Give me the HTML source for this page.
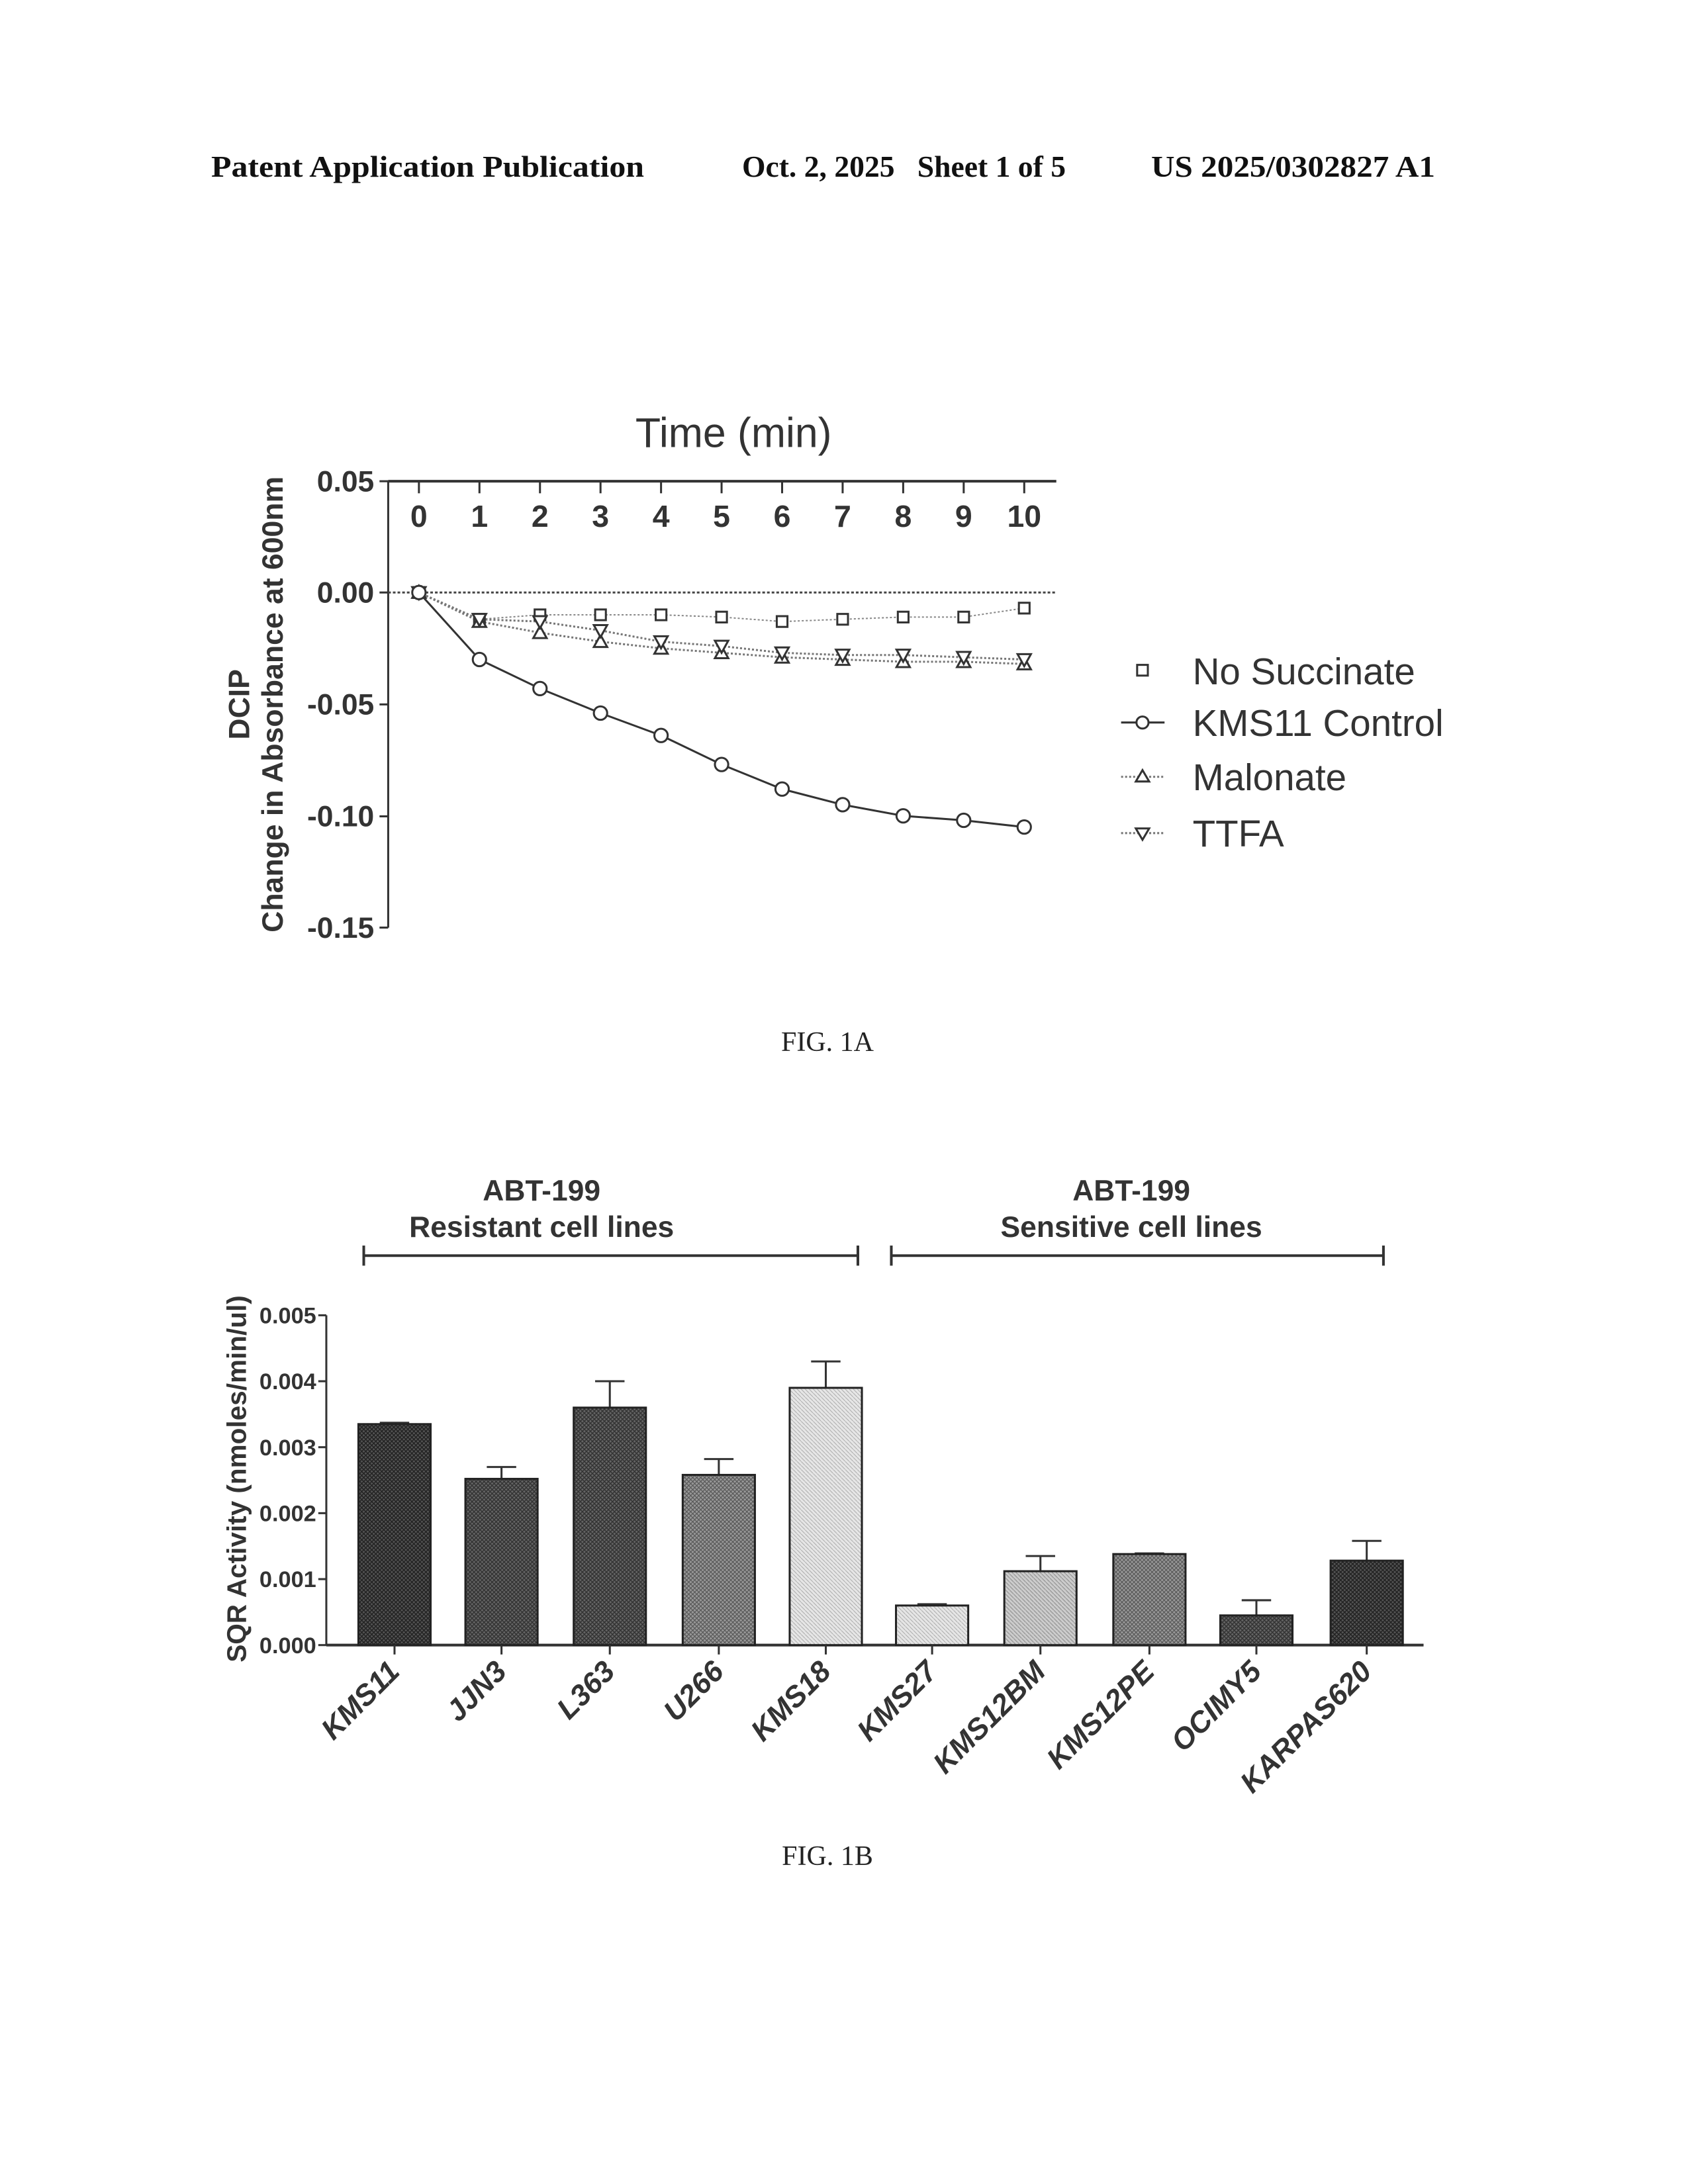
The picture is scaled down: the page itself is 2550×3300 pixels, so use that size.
<!DOCTYPE html>
<html><head><meta charset="utf-8"><style>
html,body{margin:0;padding:0;background:#fff;}
svg{display:block;}
text{font-family:"Liberation Sans",sans-serif;}
text.s{font-family:"Liberation Serif",serif;}
</style></head><body>
<svg width="2550" height="3300" viewBox="0 0 2550 3300" xmlns="http://www.w3.org/2000/svg">
<defs>
<pattern id="p1" width="6" height="6" patternUnits="userSpaceOnUse"><rect width="6" height="6" fill="#555"/><path d="M0 0L6 6M6 0L0 6" stroke="#222" stroke-width="1.5"/></pattern>
<pattern id="p2" width="6" height="6" patternUnits="userSpaceOnUse"><rect width="6" height="6" fill="#666"/><path d="M0 0L6 6M6 0L0 6" stroke="#333" stroke-width="1.5"/></pattern>
<pattern id="p3" width="6" height="6" patternUnits="userSpaceOnUse"><rect width="6" height="6" fill="#999"/><path d="M0 0L6 6M6 0L0 6" stroke="#555" stroke-width="1.2"/></pattern>
<pattern id="p4" width="6" height="6" patternUnits="userSpaceOnUse"><rect width="6" height="6" fill="#ccc"/><path d="M0 0L6 6" stroke="#888" stroke-width="1"/></pattern>
<pattern id="p5" width="6" height="6" patternUnits="userSpaceOnUse"><rect width="6" height="6" fill="#e6e6e6"/><path d="M0 0L6 6" stroke="#aaa" stroke-width="1"/></pattern>
</defs>

<!-- Header -->
<g font-weight="bold" font-size="46" fill="#111">
<text class="s" x="319" y="267" textLength="654" lengthAdjust="spacingAndGlyphs">Patent Application Publication</text>
<text class="s" x="1121" y="267" xml:space="preserve" textLength="489" lengthAdjust="spacingAndGlyphs">Oct. 2, 2025   Sheet 1 of 5</text>
<text class="s" x="1739" y="267" textLength="429" lengthAdjust="spacingAndGlyphs">US 2025/0302827 A1</text>
</g>

<!-- FIG 1A -->
<g transform="translate(-2,-1) scale(1.0093,1.0127)">
<text x="1100" y="668" font-size="62" text-anchor="middle" fill="#333">Time (min)</text>
<line x1="583" y1="719" x2="1583" y2="719" stroke="#333" stroke-width="4"/>
<line x1="583" y1="719" x2="583" y2="1385" stroke="#333" stroke-width="3"/>
<line x1="583" y1="885" x2="1583" y2="885" stroke="#444" stroke-width="3" stroke-dasharray="4,3"/>
<g stroke="#333" stroke-width="3">
<line x1="570" y1="719" x2="583" y2="719"/><line x1="570" y1="885" x2="583" y2="885"/><line x1="570" y1="1052" x2="583" y2="1052"/><line x1="570" y1="1219" x2="583" y2="1219"/><line x1="570" y1="1385" x2="583" y2="1385"/>
</g>
<g font-size="44" font-weight="bold" fill="#333" text-anchor="end">
<text x="562" y="734">0.05</text><text x="562" y="900">0.00</text><text x="562" y="1067">-0.05</text><text x="562" y="1234">-0.10</text><text x="562" y="1400">-0.15</text>
</g>
<g font-size="46" font-weight="bold" fill="#333" text-anchor="middle" id="xt"></g>
<g transform="translate(375,1052) rotate(-90)" font-size="44" font-weight="bold" fill="#333" text-anchor="middle"><text x="0" y="0">DCIP</text><text x="0" y="50">Change in Absorbance at 600nm</text></g>
<g id="lines1a"></g>

<g font-size="56" fill="#333">
<text x="1787" y="1022">No Succinate</text>
<text x="1787" y="1099">KMS11 Control</text>
<text x="1787" y="1180">Malonate</text>
<text x="1787" y="1264">TTFA</text>
</g>
<g stroke="#333" stroke-width="3" fill="none">
<rect x="1704" y="993" width="16" height="16"/>
<line x1="1680" y1="1079" x2="1745" y2="1079"/><circle cx="1712" cy="1079" r="9" fill="#fff"/>
<line x1="1680" y1="1160" x2="1745" y2="1160" stroke-dasharray="3,3" stroke="#777"/><path d="M1712 1150L1722 1167L1702 1167Z" fill="#fff"/>
<line x1="1680" y1="1244" x2="1745" y2="1244" stroke-dasharray="3,3" stroke="#777"/><path d="M1702 1237L1722 1237L1712 1254Z" fill="#fff"/>
</g>
</g>
<text class="s" x="1250" y="1588" font-size="42" text-anchor="middle" fill="#222">FIG. 1A</text>

<!-- FIG 1B -->
<g transform="translate(-2,-4) scale(1.0101,1.0129)">
<g font-size="44" font-weight="bold" fill="#333" text-anchor="middle">
<text x="812" y="1795">ABT-199</text><text x="812" y="1849">Resistant cell lines</text>
<text x="1694" y="1795">ABT-199</text><text x="1694" y="1849">Sensitive cell lines</text>
</g>
<g stroke="#333" stroke-width="4">
<line x1="546" y1="1877" x2="1285" y2="1877"/><line x1="546" y1="1862" x2="546" y2="1892"/><line x1="1285" y1="1862" x2="1285" y2="1892"/>
<line x1="1335" y1="1877" x2="2071" y2="1877"/><line x1="1335" y1="1862" x2="1335" y2="1892"/><line x1="2071" y1="1862" x2="2071" y2="1892"/>
</g>
<line x1="490" y1="1966" x2="490" y2="2458" stroke="#333" stroke-width="3"/>
<line x1="490" y1="2458" x2="2131" y2="2458" stroke="#333" stroke-width="4"/>
<g font-size="34" font-weight="bold" fill="#333" text-anchor="end" id="yt1b"></g>
<text transform="translate(370,2210) rotate(-90)" font-size="40" font-weight="bold" fill="#333" text-anchor="middle">SQR Activity (nmoles/min/ul)</text>
<g id="bars"></g>
</g>
<text class="s" x="1250" y="2818" font-size="42" text-anchor="middle" fill="#222">FIG. 1B</text>
</svg>
<script>
var NS="http://www.w3.org/2000/svg";
function el(t,a,p,txt){var e=document.createElementNS(NS,t);for(var k in a)e.setAttribute(k,a[k]);if(txt!==undefined)e.textContent=txt;p.appendChild(e);return e;}
var xt=document.getElementById('xt');
function X(i){return 629+i*90.6;}
function Y(v){return 885-v*3333;}
for(var i=0;i<=10;i++){el('text',{x:X(i),y:787},xt,String(i));el('line',{x1:X(i),y1:719,x2:X(i),y2:737,stroke:'#333','stroke-width':3},xt);}
var L=document.getElementById('lines1a');
var ns=[0,-0.012,-0.010,-0.010,-0.010,-0.011,-0.013,-0.012,-0.011,-0.011,-0.007];
var km=[0,-0.030,-0.043,-0.054,-0.064,-0.077,-0.088,-0.095,-0.100,-0.102,-0.105];
var ma=[0,-0.013,-0.018,-0.022,-0.025,-0.027,-0.029,-0.030,-0.031,-0.031,-0.032];
var tt=[0,-0.012,-0.013,-0.017,-0.022,-0.024,-0.027,-0.028,-0.028,-0.029,-0.030];
function pl(d,st){var p=d.map(function(v,i){return X(i)+','+Y(v)}).join(' ');el('polyline',Object.assign({points:p,fill:'none'},st),L);}
pl(ns,{stroke:'#888','stroke-width':2,'stroke-dasharray':'3,3'});
pl(ma,{stroke:'#777','stroke-width':3,'stroke-dasharray':'3,3'});
pl(tt,{stroke:'#777','stroke-width':3,'stroke-dasharray':'3,3'});
pl(km,{stroke:'#333','stroke-width':3});
for(var i=0;i<=10;i++){
 el('rect',{x:X(i)-8,y:Y(ns[i])-8,width:16,height:16,fill:'#fff',stroke:'#333','stroke-width':3},L);
 var x=X(i),y=Y(ma[i]);el('path',{d:'M'+x+' '+(y-10)+'L'+(x+10)+' '+(y+8)+'L'+(x-10)+' '+(y+8)+'Z',fill:'#fff',stroke:'#333','stroke-width':3},L);
 y=Y(tt[i]);el('path',{d:'M'+(x-10)+' '+(y-8)+'L'+(x+10)+' '+(y-8)+'L'+x+' '+(y+10)+'Z',fill:'#fff',stroke:'#333','stroke-width':3},L);
 el('circle',{cx:X(i),cy:Y(km[i]),r:10,fill:'#fff',stroke:'#333','stroke-width':3},L);
}
var yt=document.getElementById('yt1b');
for(var k=0;k<=5;k++){var yy=2458-k*98.4;el('text',{x:475,y:yy+12},yt,'0.00'+k);el('line',{x1:478,y1:yy,x2:490,y2:yy,stroke:'#333','stroke-width':3},yt);}
var B=document.getElementById('bars');
var names=['KMS11','JJN3','L363','U266','KMS18','KMS27','KMS12BM','KMS12PE','OCIMY5','KARPAS620'];
var cx=[592,752,914,1077,1237,1396,1558,1721,1881,2046];
var v=[0.00335,0.00252,0.0036,0.00258,0.0039,0.0006,0.00112,0.00138,0.00045,0.00128];
var e=[0.00337,0.00270,0.0040,0.00282,0.0043,0.00062,0.00135,0.00139,0.00068,0.00158];
var f=['p1','p2','p2','p3','p5','p5','p4','p3','p2','p1'];
function BY(v){return 2458-v*98400;}
for(var i=0;i<10;i++){
 el('line',{x1:cx[i],y1:BY(e[i]),x2:cx[i],y2:BY(v[i]),stroke:'#333','stroke-width':3},B);
 el('line',{x1:cx[i]-22,y1:BY(e[i]),x2:cx[i]+22,y2:BY(e[i]),stroke:'#333','stroke-width':3},B);
 el('rect',{x:cx[i]-54,y:BY(v[i]),width:108,height:2458-BY(v[i]),fill:'url(#'+f[i]+')',stroke:'#222','stroke-width':3},B);
 el('line',{x1:cx[i],y1:2458,x2:cx[i],y2:2472,stroke:'#333','stroke-width':3},B);
 el('text',{x:cx[i]+10,y:2500,'font-size':44,'font-weight':'bold','font-style':'italic',fill:'#333','text-anchor':'end',transform:'rotate(-45 '+(cx[i]+10)+' 2500)'},B,names[i]);
}
</script>
</body></html>
